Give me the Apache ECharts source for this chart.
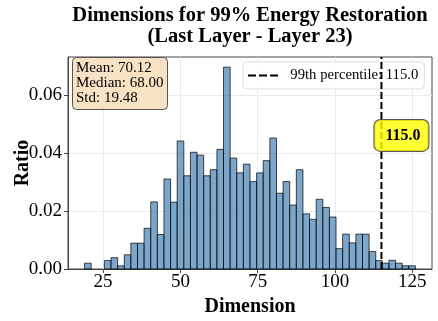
<!DOCTYPE html>
<html>
<head>
<meta charset="utf-8">
<script src="https://cdn.jsdelivr.net/npm/echarts@6/dist/echarts.min.js"></script>
<style>
  html, body { margin: 0; padding: 0; background: #fff; }
  #chart { width: 438px; height: 321px; }
</style>
</head>
<body>
<div id="chart"></div>
<script>
// histogram: 50 bins from binStart, each binWidth wide
var binStart = 19;
var binWidth = 2.14;
var ratios = [
  0.0020, 0.0000, 0.0000, 0.0029, 0.0039, 0.0011, 0.0049, 0.0089, 0.0089, 0.0140,
  0.0231, 0.0119, 0.0310, 0.0230, 0.0441, 0.0321, 0.0402, 0.0392, 0.0321, 0.0342,
  0.0412, 0.0695, 0.0382, 0.0331, 0.0361, 0.0301, 0.0331, 0.0373, 0.0451, 0.0261,
  0.0301, 0.0220, 0.0342, 0.0190, 0.0171, 0.0240, 0.0212, 0.0179, 0.0070, 0.0120,
  0.0090, 0.0120, 0.0120, 0.0060, 0.0029, 0.0020, 0.0030, 0.0020, 0.0011, 0.0011
];
var xTicks = [25, 50, 75, 100, 125];
var yTicks = [0, 0.02, 0.04, 0.06];
var percentile99 = 115.0;
var stats = { mean: 70.12, median: 68.00, std: 19.48 };

var serif = "'Liberation Serif', 'DejaVu Serif', serif";
var pctName = "99th percentile: " + percentile99.toFixed(1);

var bins = ratios.map(function (r, i) {
  return [binStart + i * binWidth, binStart + (i + 1) * binWidth, r];
});

var chart = echarts.init(document.getElementById("chart"));

var option = {
  animation: false,
  title: [
    {
      text: "Dimensions for 99% Energy Restoration\n(Last Layer - Layer 23)",
      left: 245,
      top: 0,
      textAlign: "center",
      textStyle: {
        fontFamily: serif,
        fontWeight: "bold",
        fontSize: 20.5,
        lineHeight: 21,
        color: "#000"
      }
    },
    {
      text: "Mean: " + stats.mean.toFixed(2) + "\nMedian: " + stats.median.toFixed(2) + "\nStd: " + stats.std.toFixed(2),
      left: 72,
      top: 57,
      padding: [4, 4, 4, 4],
      backgroundColor: "#f7e3c3",
      borderColor: "#555",
      borderWidth: 1,
      borderRadius: 4,
      textStyle: {
        fontFamily: serif,
        fontWeight: "normal",
        fontSize: 15,
        lineHeight: 15,
        color: "#000"
      }
    }
  ],
  legend: {
    data: [{ name: pctName, icon: "path://M0 0h8v2h-8z M11 0h8v2h-8z M22 0h8v2h-8z" }],
    left: 243,
    top: 62,
    padding: [6, 6, 6, 5],
    itemWidth: 30,
    itemHeight: 2.5,
    itemGap: 10,
    backgroundColor: "rgba(255,255,255,0.85)",
    borderColor: "#ddd",
    borderWidth: 1,
    borderRadius: 4,
    formatter: function (name) { return "  " + name; },
    textStyle: { fontFamily: serif, fontSize: 14.7, color: "#000" }
  },
  grid: {
    left: 68,
    right: 6,
    top: 57,
    bottom: 52,
    outerBoundsMode: "none",
    containLabel: false,
    show: true,
    borderColor: "#444",
    borderWidth: 1
  },
  xAxis: {
    type: "value",
    min: 13.65,
    max: 131.35,
    name: "Dimension",
    nameLocation: "middle",
    nameGap: 28,
    nameMoveOverlap: false,
    nameTextStyle: { fontFamily: serif, fontWeight: "bold", fontSize: 20, color: "#000" },
    axisLine: { show: true, lineStyle: { color: "#444" } },
    axisTick: { show: true, length: 4, customValues: xTicks, lineStyle: { color: "#444" } },
    axisLabel: {
      customValues: xTicks,
      fontFamily: serif,
      fontSize: 19,
      color: "#000",
      margin: 4
    },
    splitLine: { show: true, lineStyle: { color: "#ebebeb" } }
  },
  yAxis: {
    type: "value",
    min: 0,
    max: 0.073,
    name: "Ratio",
    nameLocation: "middle",
    nameGap: 35,
    nameMoveOverlap: false,
    nameTextStyle: { fontFamily: serif, fontWeight: "bold", fontSize: 20, color: "#000" },
    axisLine: { show: true, lineStyle: { color: "#444" } },
    axisTick: { show: true, length: 4, customValues: yTicks, lineStyle: { color: "#444" } },
    axisLabel: {
      customValues: yTicks,
      fontFamily: serif,
      fontSize: 19,
      color: "#000",
      margin: 6,
      formatter: function (v) { return v.toFixed(2); }
    },
    splitLine: { show: true, lineStyle: { color: "#ebebeb" } }
  },
  series: [
    {
      name: "hist",
      type: "custom",
      silent: true,
      data: bins,
      encode: { x: [0, 1], y: 2 },
      renderItem: function (params, api) {
        var h = api.value(2);
        if (!h) return null;
        var p0 = api.coord([api.value(0), h]);
        var p1 = api.coord([api.value(1), 0]);
        return {
          type: "rect",
          shape: { x: p0[0], y: p0[1], width: p1[0] - p0[0], height: p1[1] - p0[1] },
          style: { fill: "rgba(70,130,180,0.7)", stroke: "rgba(0,0,0,0.7)", lineWidth: 1 }
        };
      }
    },
    {
      name: pctName,
      type: "line",
      symbol: "none",
      silent: true,
      z: 5,
      itemStyle: { color: "#000" },
      data: [[percentile99, 0], [percentile99, 0.073]],
      lineStyle: { color: "#000", width: 2, type: [7, 3] },
      markPoint: {
        symbol: "circle",
        symbolSize: 0,
        silent: true,
        z: 6,
        label: {
          show: true,
          position: "inside",
          offset: [20, 0],
          formatter: percentile99.toFixed(1),
          fontFamily: serif,
          fontWeight: "bold",
          fontSize: 16,
          color: "#000",
          backgroundColor: "rgba(255,255,0,0.8)",
          borderColor: "#555",
          borderWidth: 1,
          borderRadius: 6,
          padding: [8, 8, 7, 11]
        },
        data: [{ coord: [percentile99, 0.046] }]
      }
    }
  ]
};

chart.setOption(option);
</script>
</body>
</html>
